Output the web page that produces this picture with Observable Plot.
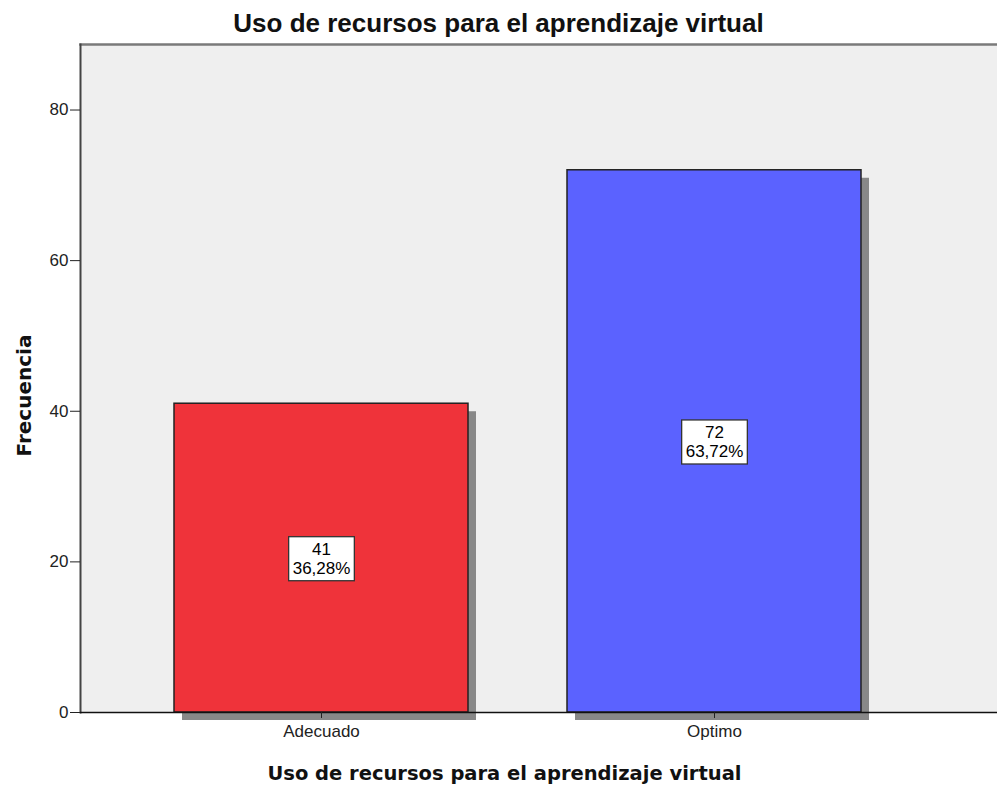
<!DOCTYPE html>
<html>
<head>
<meta charset="utf-8">
<script src="https://cdn.jsdelivr.net/npm/d3@7"></script>
<script src="https://cdn.jsdelivr.net/npm/@observablehq/plot@0.6"></script>
<style>
  html, body { margin: 0; padding: 0; background: white; }
  #wrap { width: 997px; }
  #title {
    width: 997px; height: 40px; box-sizing: border-box; padding-top: 10px;
    text-align: center; font-family: "Liberation Sans", Arial, sans-serif;
    font-weight: bold; font-size: 26px; line-height: 1; color: #111;
  }
  svg { display: block; }
</style>
</head>
<body>
<div id="wrap">
  <div id="title"></div>
  <div id="chart"></div>
</div>
<script>
// ---- data ----
const chartTitle = "Uso de recursos para el aprendizaje virtual";
const xLabel = "Uso de recursos para el aprendizaje virtual";
const yLabel = "Frecuencia";
const categories = ["Adecuado", "Optimo"];
const frequencies = [41, 72];
const percentLabels = ["36,28%", "63,72%"];
const yTicks = [0, 20, 40, 60, 80];
const yMax = 88.7;

// ---- styles ----
const barColors = ["#ef333a", "#5b62ff"];

const data = categories.map((c, i) => ({category: c, value: frequencies[i], pct: percentLabels[i]}));

document.getElementById("title").textContent = chartTitle;

const chart = Plot.plot({
  width: 997,
  height: 747,
  marginTop: 4,
  marginBottom: 75,
  marginLeft: 80,
  marginRight: 0,
  style: {fontFamily: "'Liberation Sans', Arial, sans-serif", fontSize: "17px", background: "white", color: "#222", overflow: "visible"},
  x: {domain: categories, range: [80, 955], paddingInner: 0.252, paddingOuter: 0.239},
  y: {domain: [0, yMax]},
  color: {domain: categories, range: barColors},
  marks: [
    Plot.frame({fill: "#efefef", stroke: "none"}),
    Plot.frame({anchor: "top", stroke: "#7a7a7a", strokeWidth: 2.5}),
    Plot.frame({anchor: "left", stroke: "#444", strokeWidth: 2}),
    Plot.barY(data, {x: "category", y: "value", fill: "#888", dx: 8, dy: 8}),
    Plot.barY(data, {x: "category", y: "value", fill: "category", stroke: "#222", strokeWidth: 1.5}),
    Plot.ruleY([0], {stroke: "#111", strokeWidth: 1.5}),
    Plot.axisX({tickSize: 6, tickPadding: 6, label: null, fontSize: 17}),
    Plot.axisY({ticks: yTicks, tickSize: 10, tickPadding: 2, label: null, fontSize: 17, tickFormat: d => String(d)}),
    Plot.text(data, {x: "category", y: d => d.value / 2, text: d => `${d.value}\n${d.pct}`, lineHeight: 1.12, fontSize: 17, fill: "black"}),
    Plot.text([xLabel], {frameAnchor: "bottom", lineAnchor: "middle", textAnchor: "middle", dx: -34.5, dy: 61.6, fontFamily: "'DejaVu Sans', sans-serif", fontWeight: "bold", fontSize: 19.5, fill: "#111"}),
    Plot.text([yLabel], {frameAnchor: "left", rotate: -90, lineAnchor: "middle", textAnchor: "middle", dx: -56, dy: 17, fontFamily: "'DejaVu Sans', sans-serif", fontWeight: "bold", fontSize: 20, fill: "#111"})
  ]
});

document.getElementById("chart").appendChild(chart);

// white boxes behind the value labels (first text mark = bar labels)
const labelGroup = chart.querySelector('g[aria-label="text"]');
if (labelGroup) {
  labelGroup.querySelectorAll("text").forEach(t => {
    const bb = t.getBBox();
    const r = document.createElementNS("http://www.w3.org/2000/svg", "rect");
    r.setAttribute("x", bb.x - 4);
    r.setAttribute("y", bb.y - 3);
    r.setAttribute("width", bb.width + 8);
    r.setAttribute("height", bb.height + 6);
    r.setAttribute("fill", "white");
    r.setAttribute("stroke", "#333");
    r.setAttribute("stroke-width", "1.3");
    if (t.getAttribute("transform")) r.setAttribute("transform", t.getAttribute("transform"));
    t.parentNode.insertBefore(r, t);
  });
}
</script>
</body>
</html>
